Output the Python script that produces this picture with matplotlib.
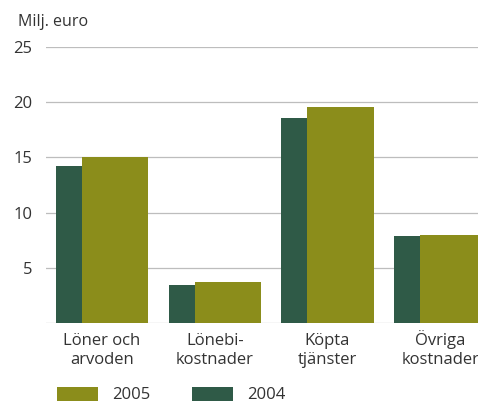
import matplotlib
matplotlib.use("Agg")
import matplotlib.pyplot as plt
import matplotlib.transforms as mtransforms
import numpy as np

categories = ["Löner och\narvoden", "Lönebi-\nkostnader", "Köpta\ntjänster", "Övriga\nkostnader"]
values_2004 = [14.2, 3.45, 18.55, 7.9]
values_2005 = [15.0, 3.7, 19.55, 8.0]
yticks = [5, 10, 15, 20, 25]

c2005 = "#8b8d1b"
c2004 = "#2f5a47"
grid_c = "#bdbdbd"
txt_c = "#333333"

plt.rcParams['font.family'] = ['Open Sans', 'DejaVu Sans']

fig = plt.figure(figsize=(4.78, 4.03), dpi=100)
ax = fig.add_axes([46/478, 1-323/403, 1-46/478, (323-47)/403])

x = np.arange(len(categories))
ax.bar(x - 0.408, values_2004, width=0.231, align='edge', color=c2004, label="2004", zorder=3)
ax.bar(x - 0.177, values_2005, width=0.586, align='edge', color=c2005, label="2005", zorder=3)

ax.set_xlim(-0.497, 3.336)
ax.set_ylim(0, 25)
ax.set_yticks(yticks)
ax.set_yticklabels([str(v) for v in yticks], fontsize=12, color=txt_c)
ax.set_xticks(x)
ax.set_xticklabels([])
ax.tick_params(axis='y', length=0, pad=10)
ax.tick_params(axis='x', length=0)
for s in ax.spines.values():
    s.set_visible(False)
ax.yaxis.grid(True, color=grid_c, linewidth=0.9, zorder=0)
ax.axhline(0, color=grid_c, linewidth=0.9, zorder=1)
ax.set_axisbelow(True)

# category labels: baseline of first line at fixed offset below axis
trans = ax.get_xaxis_transform()
for xi, cat in zip(x, categories):
    first, second = cat.split("\n")
    off1 = mtransforms.ScaledTranslation(0, -22/100, fig.dpi_scale_trans)
    off2 = mtransforms.ScaledTranslation(0, -41/100, fig.dpi_scale_trans)
    ax.text(xi, 0, first, transform=trans + off1, ha='center', va='baseline',
            fontsize=12, color=txt_c)
    ax.text(xi, 0, second, transform=trans + off2, ha='center', va='baseline',
            fontsize=12, color=txt_c)

fig.text(18/478, 1-22/403, "Milj. euro", fontsize=11.5, color=txt_c, va='center', ha='left')

h, l = ax.get_legend_handles_labels()
fig.legend([h[1], h[0]], [l[1], l[0]], ncol=2, frameon=False,
           loc='center left', bbox_to_anchor=(57/478, 1-395/403),
           fontsize=12, handlelength=2.45, handleheight=0.95,
           handletextpad=0.85, columnspacing=2.5, borderpad=0, borderaxespad=0,
           labelcolor=txt_c)

fig.savefig("out.png", dpi=100)
